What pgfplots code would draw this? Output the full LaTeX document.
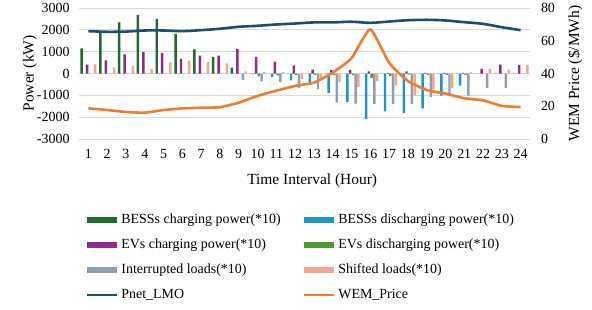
\documentclass[border=0pt]{standalone}
\usepackage{fontspec}
\setmainfont{Liberation Serif}
\usepackage{pgfplots}
\pgfplotsset{compat=1.18}
\usepackage{pgfplotstable}

\definecolor{bessch}{HTML}{1E6B2E}
\definecolor{bessdis}{HTML}{1F95CC}
\definecolor{evch}{HTML}{912A8C}
\definecolor{evdis}{HTML}{4A9B30}
\definecolor{intr}{HTML}{8D9FB1}
\definecolor{shft}{HTML}{F2A68F}
\definecolor{pnet}{HTML}{1B4F72}
\definecolor{wem}{HTML}{ED7D31}
\definecolor{gridc}{HTML}{D9D9D9}

\pgfplotstableread{
h bc bd ec ed il sl pnet wem
1 1150 0 410 0 0 420 1940 18.7
2 1850 0 600 0 0 280 1910 17.7
3 2340 0 880 0 0 350 1920 16.5
4 2690 0 980 0 0 200 1970 16.1
5 2500 0 930 0 0 510 1970 17.7
6 1820 0 670 0 0 590 1940 18.7
7 1100 0 820 0 0 520 1985 19.1
8 760 0 820 0 0 460 2050 19.4
9 270 0 1130 0 -300 100 2140 22.2
10 0 -30 760 -120 -360 70 2185 26.3
11 0 -150 540 -90 -380 70 2245 29.5
12 0 -320 370 -60 -660 -250 2290 32.4
13 0 -520 180 -60 -720 -220 2340 34.4
14 0 -890 170 -80 -1330 -380 2340 40.5
15 0 -1310 170 -70 -1380 -620 2370 49.3
16 0 -2080 100 -200 -1390 -350 2320 67.0
17 0 -1740 30 -120 -1390 -540 2380 46.6
18 0 -1800 100 -50 -1390 -1000 2440 35.4
19 0 -1600 30 -70 -1080 -730 2460 29.9
20 0 -1010 30 -60 -1010 -660 2430 27.7
21 0 -550 30 -60 -1010 60 2350 24.9
22 0 0 210 0 -660 210 2275 23.6
23 0 0 410 0 -660 180 2120 20.2
24 0 0 380 0 0 380 1985 19.5
}\data

\pgfplotsset{
  myax/.style={
    scale only axis, width=451bp, height=131bp,
    at={(79bp,171bp)}, anchor=south west,
    xmin=0.5, xmax=24.5,
    axis line style={draw=none}, major tick length=0,
    tick label style={font=\fontsize{14}{16}\selectfont},
    /pgf/number format/assume math mode=true,
    /pgf/number format/1000 sep={},
    scaled y ticks=false,
  },
  barleg/.style={legend image code/.code={\fill[#1] (0bp,-2.7bp) rectangle (30bp,2.7bp);}},
  linleg/.style={legend image code/.code={\draw[#1, line width=2.6bp] (0bp,0bp) -- (30bp,0bp);}},
}

\begin{document}
\begin{tikzpicture}
\useasboundingbox (0,0) rectangle (592bp,310bp);
\begin{axis}[myax,
  ymin=-3000, ymax=3000, ytick={-3000,-2000,...,3000},
  xtick={1,...,24},
  xticklabel style={yshift=-7bp},
  yticklabel style={xshift=-6bp},
  ymajorgrids, grid style={draw=gridc, line width=0.8bp},
  every axis y label/.style={at={(axis description cs:-0.109,0.5)}, rotate=90, anchor=center, font=\fontsize{15.5}{17}\selectfont},
  every axis x label/.style={at={(axis description cs:0.517,-0.32)}, anchor=center, font=\fontsize{15.5}{17}\selectfont},
  xlabel={Time Interval (Hour)},
  ylabel={Power (kW)},
  legend columns=2,
  legend cell align=left,
  legend style={draw=none, fill=none, inner sep=0pt,
    at={(0.0146,-0.56)}, anchor=north west,
    font=\fontsize{14}{16}\selectfont,
    nodes={inner xsep=3bp, inner ysep=1bp, text height=10bp, text depth=3bp},
    row sep=10bp, column sep=0pt,
    /tikz/column 2/.style={column sep=19bp}},
]
\addplot[ybar, bar width=0.13, bar shift=-0.3625, draw=none, fill=bessch, barleg=bessch] table[x=h, y=bc] {\data};
\addlegendentry{BESSs charging power(*10)}
\addplot[ybar, bar width=0.13, bar shift=-0.2175, draw=none, fill=bessdis, barleg=bessdis] table[x=h, y=bd] {\data};
\addlegendentry{BESSs discharging power(*10)}
\addplot[ybar, bar width=0.13, bar shift=-0.0725, draw=none, fill=evch, barleg=evch] table[x=h, y=ec] {\data};
\addlegendentry{EVs charging power(*10)}
\addplot[ybar, bar width=0.13, bar shift=0.0725, draw=none, fill=evdis, barleg=evdis] table[x=h, y=ed] {\data};
\addlegendentry{EVs discharging power(*10)}
\addplot[ybar, bar width=0.13, bar shift=0.2175, draw=none, fill=intr, barleg=intr] table[x=h, y=il] {\data};
\addlegendentry{Interrupted loads(*10)}
\addplot[ybar, bar width=0.13, bar shift=0.3625, draw=none, fill=shft, barleg=shft] table[x=h, y=sl] {\data};
\addlegendentry{Shifted loads(*10)}
\addplot[pnet, line width=2.6bp, smooth, tension=0.5, mark=none, linleg=pnet] table[x=h, y=pnet] {\data};
\addlegendentry{Pnet\_LMO}
\addlegendimage{linleg=wem}
\addlegendentry{WEM\_Price}
\end{axis}
\begin{axis}[myax,
  ymin=0, ymax=80, ytick={0,20,...,80},
  xtick=\empty,
  yticklabel pos=right,
  yticklabel style={xshift=7.5bp},
  every axis y label/.style={at={(axis description cs:1.1,0.5)}, rotate=90, anchor=center, font=\fontsize{15.5}{17}\selectfont},
  ylabel={WEM Price (\$/MWh)},
]
\addplot[wem, line width=2.6bp, smooth, tension=0.3, mark=none] table[x=h, y=wem] {\data};
\end{axis}
\end{tikzpicture}
\end{document}
